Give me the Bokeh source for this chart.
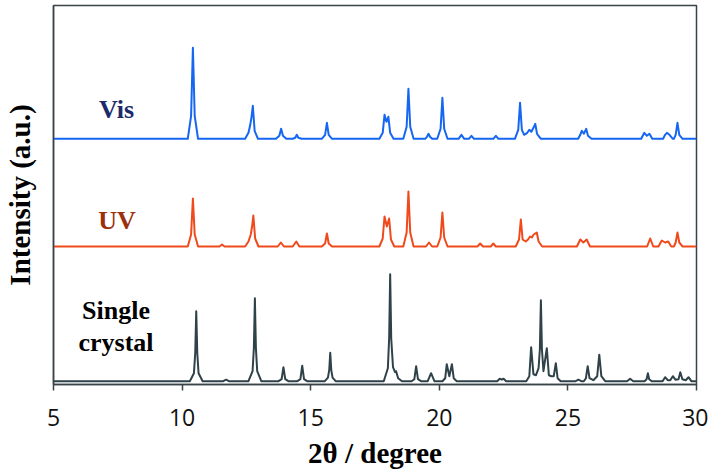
from bokeh.plotting import figure
from bokeh.models import Range1d, FixedTicker
from bokeh.core.properties import value
from bokeh.embed import file_html
from bokeh.resources import INLINE

# ---------------- data (2theta in degree, intensity in a.u.) ----------------
x_ticks = [5, 10, 15, 20, 25, 30]

vis_pattern = [
    (5.00, 0), (10.22, 0), (10.35, 23), (10.42, 91), (10.49, 23), (10.62, 0),
    (12.45, 0), (12.58, 6), (12.65, 14), (12.70, 22), (12.75, 33), (12.82, 8), (12.95, 0),
    (13.65, 0), (13.78, 3), (13.85, 10), (13.92, 3), (14.05, 0),
    (14.30, 0), (14.40, 1), (14.46, 4), (14.52, 1), (14.65, 0),
    (15.43, 0), (15.56, 4), (15.63, 16), (15.70, 4), (15.83, 0),
    (17.67, 0), (17.80, 6), (17.87, 24), (17.945, 17), (18.02, 22), (18.09, 6), (18.22, 0),
    (18.60, 0), (18.73, 12), (18.80, 50), (18.87, 12), (19.00, 0),
    (19.45, 0), (19.52, 2), (19.58, 5), (19.64, 2), (19.72, 0),
    (19.92, 0), (20.05, 10), (20.12, 41), (20.19, 10), (20.32, 0),
    (20.75, 0), (20.86, 4), (20.97, 0),
    (21.15, 0), (21.25, 3), (21.35, 0),
    (22.10, 0), (22.20, 3), (22.30, 0),
    (22.94, 0), (23.07, 9), (23.14, 36), (23.21, 9), (23.30, 4), (23.42, 6), (23.50, 9),
    (23.58, 7), (23.66, 11), (23.73, 15), (23.80, 5), (23.95, 0),
    (25.40, 0), (25.48, 4), (25.54, 8), (25.62, 5), (25.71, 10), (25.78, 3), (25.92, 0),
    (27.85, 0), (27.97, 6), (28.07, 3), (28.17, 5), (28.28, 0),
    (28.70, 0), (28.78, 4), (28.85, 6), (28.95, 4), (29.08, 0),
    (29.12, 0), (29.19, 4), (29.26, 16), (29.33, 4), (29.46, 0),
    (30.00, 0),
]

uv_pattern = [
    (5.00, 0), (10.22, 0), (10.35, 12), (10.42, 48), (10.49, 12), (10.62, 0),
    (11.45, 0), (11.55, 2), (11.65, 0),
    (12.45, 0), (12.58, 5), (12.67, 12), (12.72, 20), (12.77, 31), (12.84, 8), (12.97, 0),
    (13.72, 0), (13.84, 4), (13.96, 0),
    (14.30, 0), (14.44, 5), (14.56, 0),
    (15.43, 0), (15.56, 3), (15.63, 13), (15.70, 3), (15.83, 0),
    (17.67, 0), (17.80, 8), (17.87, 30), (17.96, 20), (18.05, 28), (18.12, 7), (18.25, 0),
    (18.60, 0), (18.73, 14), (18.80, 55), (18.87, 14), (19.00, 0),
    (19.48, 0), (19.60, 4), (19.72, 0),
    (19.92, 0), (20.05, 9), (20.12, 34), (20.19, 9), (20.32, 0),
    (21.48, 0), (21.59, 3), (21.70, 0),
    (22.00, 0), (22.10, 3), (22.20, 0),
    (22.97, 0), (23.10, 7), (23.17, 27), (23.24, 7), (23.36, 5), (23.45, 7), (23.53, 10),
    (23.60, 9), (23.67, 12), (23.79, 14), (23.86, 5), (24.00, 0),
    (25.35, 0), (25.48, 7), (25.60, 4), (25.73, 7), (25.86, 0),
    (28.08, 0), (28.20, 8), (28.32, 0),
    (28.52, 0), (28.65, 6), (28.78, 4), (28.90, 5), (29.02, 0),
    (29.12, 0), (29.19, 4), (29.26, 14), (29.33, 4), (29.46, 0),
    (30.00, 0),
]

sc_pattern = [
    (5.00, 0), (10.30, 0), (10.46, 8), (10.51, 28), (10.55, 70), (10.59, 28), (10.64, 8), (10.80, 0),
    (11.60, 0), (11.71, 1.5), (11.82, 0),
    (12.58, 0), (12.74, 10), (12.79, 33), (12.83, 83), (12.87, 33), (12.92, 10), (13.08, 0),
    (13.75, 0), (13.87, 2), (13.94, 14), (14.01, 2), (14.13, 0),
    (14.48, 0), (14.60, 2), (14.67, 15.5), (14.74, 2), (14.86, 0),
    (15.55, 0), (15.67, 3.5), (15.72, 11), (15.76, 28.5), (15.80, 11), (15.85, 3.5), (15.97, 0),
    (17.84, 0), (18.00, 13), (18.05, 43), (18.09, 107), (18.13, 43), (18.20, 14), (18.28, 9),
    (18.32, 10), (18.40, 3), (18.55, 0),
    (18.92, 0), (19.03, 2), (19.10, 15), (19.17, 2), (19.29, 0),
    (19.55, 0), (19.68, 8), (19.81, 0),
    (20.12, 0), (20.23, 3), (20.29, 17), (20.39, 5), (20.49, 17), (20.56, 3), (20.68, 0),
    (22.25, 0), (22.35, 2.5), (22.43, 1.5), (22.50, 2.5), (22.60, 0),
    (23.38, 0), (23.50, 5), (23.57, 34), (23.66, 7), (23.76, 6), (23.86, 13), (23.91, 32),
    (23.95, 81), (23.99, 32), (24.05, 10), (24.18, 33), (24.26, 6), (24.36, 5), (24.45, 5),
    (24.53, 18), (24.60, 3), (24.72, 0),
    (25.30, 0), (25.41, 1.5), (25.52, 0),
    (25.62, 0), (25.70, 3), (25.77, 15), (25.84, 3), (25.99, 1), (26.14, 5), (26.22, 26.5),
    (26.30, 5), (26.45, 0),
    (27.30, 0), (27.42, 2.5), (27.54, 0),
    (27.98, 0), (28.06, 2), (28.11, 8), (28.16, 2), (28.26, 0),
    (28.68, 0), (28.78, 4), (28.88, 1), (28.98, 1), (29.08, 5), (29.18, 1.5), (29.30, 2),
    (29.37, 9), (29.45, 2), (29.58, 1), (29.69, 4), (29.80, 0),
    (30.00, 0),
]

# vertical offsets of the stacked patterns
vis_offset = 245.7
uv_offset = 138.0
sc_offset = 3.3

series_labels = ["Vis", "UV", "Single\ncrystal"]

# ---------------- styles / positions ----------------
AXIS_COLOR = "#3a4347"
VIS_COLOR = "#1566f0"
UV_COLOR = "#f04a1c"
SC_COLOR = "#2f4249"
VIS_TEXT = "#1b2a6b"
UV_TEXT = "#9c300c"
SERIF = "Liberation Serif"

label_x = [7.45, 7.47, 7.43]
label_y = [275, 164, 58]
label_colors = [VIS_TEXT, UV_TEXT, "#000000"]
label_baselines = ["alphabetic", "alphabetic", "middle"]

p = figure(
    frame_width=643, frame_height=379,
    x_range=Range1d(5, 30), y_range=Range1d(0, 379),
    output_backend="svg", toolbar_location=None,
    min_border_left=52, min_border_right=12, min_border_top=5, min_border_bottom=10,
)
p.grid.visible = False
p.background_fill_color = "white"
p.border_fill_color = "white"
p.outline_line_color = AXIS_COLOR
p.outline_line_width = 1.5
p.outline_line_alpha = 1.0

xa = p.xaxis[0]
xa.ticker = FixedTicker(ticks=x_ticks)
xa.major_tick_out = 6
xa.major_tick_in = 0
xa.minor_tick_out = 0
xa.minor_tick_in = 0
xa.axis_line_color = AXIS_COLOR
xa.axis_line_width = 1.5
xa.major_tick_line_color = AXIS_COLOR
xa.major_tick_line_width = 1.5
xa.major_label_text_font = "Open Sans"
xa.major_label_text_font_size = "23px"
xa.major_label_text_color = "#111111"
xa.major_label_standoff = 18
xa.axis_label = "2θ / degree"
xa.axis_label_text_font = SERIF
xa.axis_label_text_font_size = "29px"
xa.axis_label_text_font_style = "bold"
xa.axis_label_text_color = "#000000"
xa.axis_label_standoff = 8

ya = p.yaxis[0]
ya.ticker = FixedTicker(ticks=[])
ya.major_tick_out = 0
ya.major_tick_in = 0
ya.minor_tick_out = 0
ya.minor_tick_in = 0
ya.axis_line_color = AXIS_COLOR
ya.axis_line_width = 1.5
ya.axis_label = "Intensity (a.u.)"
ya.axis_label_text_font = SERIF
ya.axis_label_text_font_size = "29px"
ya.axis_label_text_font_style = "bold"
ya.axis_label_text_color = "#000000"
ya.axis_label_standoff = 18

for pattern, offset, color in [
    (sc_pattern, sc_offset, SC_COLOR),
    (uv_pattern, uv_offset, UV_COLOR),
    (vis_pattern, vis_offset, VIS_COLOR),
]:
    xs = [pt[0] for pt in pattern]
    ys = [pt[1] + offset for pt in pattern]
    p.line(xs, ys, line_color=color, line_width=2, line_join="round")

for lx, ly, txt, col, bl in zip(label_x, label_y, series_labels, label_colors, label_baselines):
    p.text(x=[lx], y=[ly], text=[txt], text_font=value(SERIF), text_font_style="bold",
           text_font_size="26px", text_color=col, text_align="center", text_baseline=bl,
           text_line_height=1.1)

open("out.html", "w").write(file_html(p, INLINE))
